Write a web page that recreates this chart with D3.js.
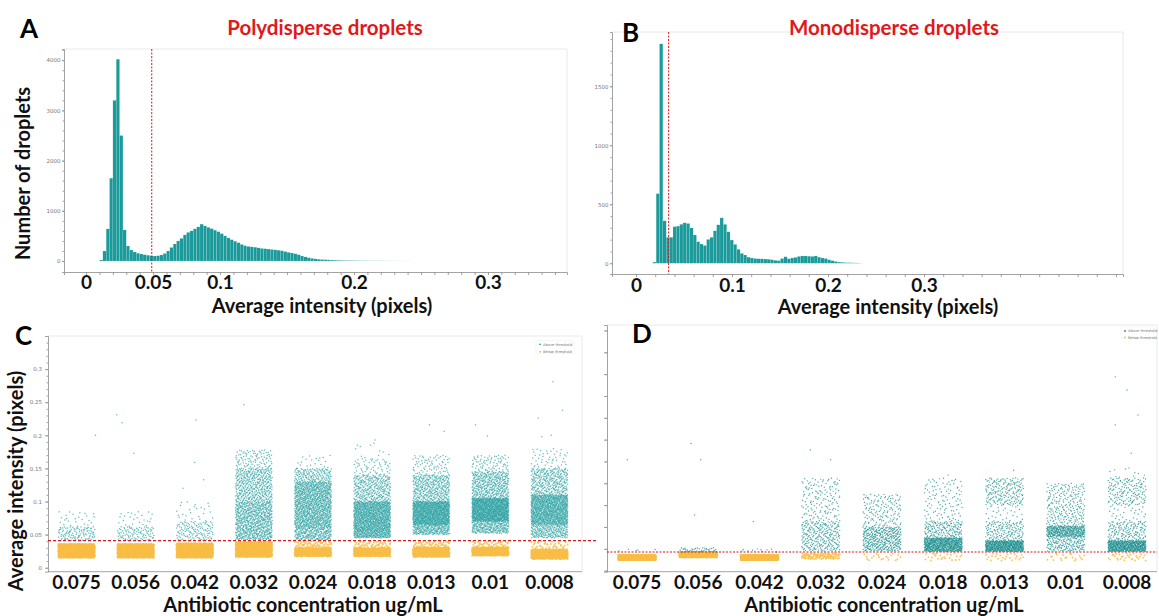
<!DOCTYPE html>
<html lang="en">
<head>
<meta charset="UTF-8">
<title>Droplet intensity distributions</title>
<script src="https://d3js.org/d3.v7.min.js"></script>
<style>
  * { margin: 0; padding: 0; }
  body { background: #fff; width: 1159px; height: 616px; overflow: hidden; }
  svg { display: block; font-family: Lato, 'Open Sans', sans-serif; }
  .big text { font-weight: 700; font-size: 19px; fill: #111; font-family: Lato, sans-serif; }
  text.big { font-weight: 700; font-size: 20px; fill: #111; font-family: Lato, sans-serif; }
  .letter { font-weight: 700; font-size: 26px; fill: #000; }
  .title { font-weight: 700; font-size: 20.5px; fill: #e0191b; }
  .small text { font-size: 5.5px; fill: #777; font-family: 'DejaVu Sans', sans-serif; }
  .small path, .small line { stroke: #8c8c8c; stroke-width: 0.8; }
  .legend text { font-size: 3.6px; fill: #777; font-family: 'DejaVu Sans', sans-serif; }
</style>
</head>
<body>
<svg id="fig" width="1159" height="616"></svg>
<script>
// ---------- data ----------

// A: polydisperse droplets, histogram of average intensity
const binStartA = 0.01;
const binWidthA = 0.0025;
const countsA = [
  20, 200, 640, 1650, 3200, 4020, 2500, 620, 300, 220,
  180, 155, 140, 125, 115, 105, 100, 105, 120, 150,
  200, 270, 340, 400, 450, 520, 570, 600, 640, 680,
  735, 700, 670, 645, 615, 585, 545, 500, 460, 425,
  395, 365, 330, 305, 290, 282, 275, 262, 250, 245,
  238, 230, 222, 214, 205, 188, 172, 160, 145, 125,
  100, 82, 65, 52, 42, 35, 30, 26, 22, 19,
  16, 14, 12, 10, 9, 8, 7, 6, 5, 5,
  4, 4, 3, 3, 3, 2, 2, 2, 1, 1, 1, 1, 1
];
const thresholdA = 0.049;
const countTicksA = [0, 1000, 2000, 3000, 4000];
const intensityTicksA = [0, 0.05, 0.1, 0.2, 0.3];

// B: monodisperse droplets
const binStartB = 0.0175;
const binWidthB = 0.0035;
const countsB = [
  10, 590, 1860, 360, 220, 220, 310, 315, 330, 343,
  337, 300, 240, 183, 163, 150, 202, 220, 275, 326,
  385, 330, 267, 197, 160, 118, 84, 70, 52, 45,
  40, 38, 38, 36, 34, 30, 25, 22, 40, 55,
  38, 45, 50, 58, 62, 62, 60, 58, 62, 52,
  45, 40, 30, 22, 15, 10, 8, 6, 5, 4, 3, 2
];
const thresholdB = 0.034;
const countTicksB = [0, 500, 1000, 1500];
const intensityTicksB = [0, 0.1, 0.2, 0.3];

// C / D: strip plots by antibiotic concentration (ug/mL)
const concentrations = ['0.075', '0.056', '0.042', '0.032', '0.024', '0.018', '0.013', '0.01', '0.008'];
const intensityTicksC = [0, 0.05, 0.1, 0.15, 0.2, 0.25, 0.3];
const thresholdC = 0.041;
const thresholdD = 0.034;

// dense parts of each strip: [concentration, group, low, high, approx. number of droplets]
const densityC = [
  ['0.075', 'below', 0.015, 0.036, 900],
  ['0.056', 'below', 0.015, 0.036, 900],
  ['0.042', 'below', 0.015, 0.037, 900],
  ['0.032', 'below', 0.016, 0.039, 750],
  ['0.024', 'below', 0.017, 0.030, 420],
  ['0.024', 'below', 0.030, 0.040, 60],
  ['0.018', 'below', 0.017, 0.030, 420],
  ['0.018', 'below', 0.030, 0.040, 50],
  ['0.013', 'below', 0.016, 0.031, 420],
  ['0.013', 'below', 0.031, 0.040, 50],
  ['0.01', 'below', 0.018, 0.031, 420],
  ['0.01', 'below', 0.031, 0.040, 40],
  ['0.008', 'below', 0.013, 0.028, 420],
  ['0.008', 'below', 0.028, 0.040, 40],
  ['0.075', 'above', 0.041, 0.062, 110],
  ['0.075', 'above', 0.062, 0.085, 25],
  ['0.056', 'above', 0.041, 0.062, 100],
  ['0.056', 'above', 0.062, 0.085, 25],
  ['0.042', 'above', 0.041, 0.070, 130],
  ['0.042', 'above', 0.070, 0.100, 25],
  ['0.032', 'above', 0.042, 0.100, 700],
  ['0.032', 'above', 0.100, 0.150, 420],
  ['0.032', 'above', 0.150, 0.178, 100],
  ['0.024', 'above', 0.042, 0.060, 220],
  ['0.024', 'above', 0.060, 0.130, 1100],
  ['0.024', 'above', 0.130, 0.150, 150],
  ['0.024', 'above', 0.150, 0.170, 20],
  ['0.018', 'above', 0.045, 0.055, 200],
  ['0.018', 'above', 0.055, 0.100, 1000],
  ['0.018', 'above', 0.100, 0.140, 320],
  ['0.018', 'above', 0.140, 0.165, 60],
  ['0.018', 'above', 0.165, 0.190, 10],
  ['0.013', 'above', 0.050, 0.065, 220],
  ['0.013', 'above', 0.065, 0.100, 1000],
  ['0.013', 'above', 0.100, 0.140, 360],
  ['0.013', 'above', 0.140, 0.170, 80],
  ['0.01', 'above', 0.052, 0.070, 240],
  ['0.01', 'above', 0.070, 0.105, 1100],
  ['0.01', 'above', 0.105, 0.145, 400],
  ['0.01', 'above', 0.145, 0.170, 80],
  ['0.008', 'above', 0.045, 0.065, 220],
  ['0.008', 'above', 0.065, 0.110, 1000],
  ['0.008', 'above', 0.110, 0.150, 320],
  ['0.008', 'above', 0.150, 0.180, 50]
];
// single droplets: [concentration, intensity, position inside the strip]
const outliersC = [
  ['0.075', 0.200, 0.32],
  ['0.056', 0.231, -0.32], ['0.056', 0.219, -0.23], ['0.056', 0.173, -0.03],
  ['0.042', 0.223, 0.02], ['0.042', 0.159, 0.0], ['0.042', 0.133, 0.15], ['0.042', 0.120, -0.2],
  ['0.032', 0.246, -0.17],
  ['0.018', 0.193, 0.05], ['0.018', 0.185, -0.25],
  ['0.013', 0.216, -0.03], ['0.013', 0.206, 0.22],
  ['0.01', 0.216, -0.25], ['0.01', 0.199, -0.05],
  ['0.008', 0.281, 0.06], ['0.008', 0.238, 0.22], ['0.008', 0.226, -0.19],
  ['0.008', 0.198, -0.13], ['0.008', 0.200, 0.03]
];

const densityD = [
  ['0.075', 'below', 0.019, 0.029, 700],
  ['0.056', 'below', 0.024, 0.034, 700],
  ['0.042', 'below', 0.019, 0.029, 700],
  ['0.032', 'below', 0.021, 0.032, 110],
  ['0.024', 'below', 0.018, 0.032, 20],
  ['0.018', 'below', 0.018, 0.032, 25],
  ['0.013', 'below', 0.018, 0.032, 25],
  ['0.01', 'below', 0.018, 0.032, 20],
  ['0.008', 'below', 0.018, 0.032, 30],
  ['0.075', 'above', 0.035, 0.040, 5],
  ['0.056', 'above', 0.034, 0.042, 40],
  ['0.042', 'above', 0.034, 0.040, 10],
  ['0.032', 'above', 0.036, 0.090, 260],
  ['0.032', 'above', 0.090, 0.170, 150],
  ['0.024', 'above', 0.036, 0.080, 350],
  ['0.024', 'above', 0.080, 0.140, 150],
  ['0.018', 'above', 0.035, 0.060, 550],
  ['0.018', 'above', 0.060, 0.090, 160],
  ['0.018', 'above', 0.090, 0.170, 110],
  ['0.013', 'above', 0.035, 0.055, 500],
  ['0.013', 'above', 0.055, 0.090, 150],
  ['0.013', 'above', 0.090, 0.120, 30],
  ['0.013', 'above', 0.120, 0.170, 190],
  ['0.01', 'above', 0.036, 0.062, 160],
  ['0.01', 'above', 0.062, 0.082, 320],
  ['0.01', 'above', 0.082, 0.120, 130],
  ['0.01', 'above', 0.120, 0.160, 110],
  ['0.008', 'above', 0.035, 0.055, 480],
  ['0.008', 'above', 0.055, 0.090, 150],
  ['0.008', 'above', 0.090, 0.120, 30],
  ['0.008', 'above', 0.120, 0.170, 160],
  ['0.008', 'above', 0.170, 0.190, 10]
];
const outliersD = [
  ['0.075', 0.203, -0.16],
  ['0.056', 0.233, -0.12], ['0.056', 0.203, 0.04], ['0.056', 0.102, -0.06],
  ['0.042', 0.090, -0.1],
  ['0.032', 0.221, -0.17], ['0.032', 0.203, 0.16],
  ['0.018', 0.175, 0.08],
  ['0.013', 0.184, 0.15],
  ['0.008', 0.355, -0.19], ['0.008', 0.331, 0.0], ['0.008', 0.285, 0.18],
  ['0.008', 0.267, -0.19], ['0.008', 0.215, 0.07]
];

// ---------- drawing ----------
const TEAL = '#1a9a9a';
const YELLOW = '#f8bd45';
const RED = '#d7191c';
const svg = d3.select('#fig');
const fmt = d3.format('~g');

function frame(g, x0, x1, y0, y1) {
  g.append('path')
    .attr('d', `M${x0},${y0}H${x1}V${y1}`)
    .attr('fill', 'none').attr('stroke', '#e4e4e4').attr('stroke-width', 0.8);
}

function histogram(cfg) {
  const g = svg.append('g');
  const x = d3.scaleLinear().domain(cfg.xDomain).range(cfg.xRange);
  const y = d3.scaleLinear().domain(cfg.yDomain).range(cfg.yRange);
  const [left, right] = cfg.xRange;
  const [bottom, top] = cfg.yRange;
  frame(g, left, right, top, bottom);

  g.selectAll('rect.bar').data(cfg.counts).join('rect')
    .attr('class', 'bar')
    .attr('x', (d, i) => x(cfg.start + i * cfg.width))
    .attr('width', (d, i) => x(cfg.start + (i + 1) * cfg.width) - x(cfg.start + i * cfg.width))
    .attr('y', d => y(d))
    .attr('height', d => y(0) - y(d))
    .attr('fill', TEAL)
    .attr('stroke', '#fff').attr('stroke-width', 0.3).attr('stroke-opacity', 0.45);

  // y axis with small grey labels + minor ticks
  g.append('g').attr('class', 'small').attr('transform', `translate(${left},0)`)
    .call(d3.axisLeft(y).tickValues(cfg.countTicks).tickSize(2).tickPadding(1.5).tickFormat(d3.format('d')));
  g.append('g').attr('class', 'small').attr('transform', `translate(${left},0)`)
    .call(d3.axisLeft(y).tickValues(d3.range(0, cfg.yDomain[1], cfg.minorY)).tickSize(1.5).tickFormat(''))
    .call(a => a.select('.domain').remove());

  // x axis: minor ticks, then the large labels
  g.append('g').attr('class', 'small').attr('transform', `translate(0,${bottom})`)
    .call(d3.axisBottom(x).tickValues(d3.range(0, cfg.xDomain[1], cfg.minorX)).tickSize(3).tickFormat(''));
  g.append('g').attr('class', 'big').attr('transform', `translate(0,${bottom})`)
    .call(d3.axisBottom(x).tickValues(cfg.labelTicks).tickSize(0).tickPadding(cfg.labelPad).tickFormat(fmt))
    .call(a => a.select('.domain').remove());

  g.append('line')
    .attr('x1', x(cfg.threshold)).attr('x2', x(cfg.threshold))
    .attr('y1', top).attr('y2', bottom)
    .attr('stroke', RED).attr('stroke-width', 1).attr('stroke-dasharray', '2,1.5');
}

// Halton low-discrepancy placement of droplets inside a strip (stands in for plot jitter)
function halton(i, b) {
  let f = 1, r = 0;
  while (i > 0) { f /= b; r += f * (i % b); i = Math.floor(i / b); }
  return r;
}
function layout(density, outliers, x, y, jitter) {
  const pts = [];
  density.forEach((s, si) => {
    const [cat, group, lo, hi, n] = s;
    const cx = x(cat) + x.bandwidth() / 2;
    for (let k = 0; k < n; k++) {
      const j = k + 1 + si * 1013;
      const u = halton(j, 2);
      const v = halton(j, 3);
      pts.push({ group, x: cx + (u - 0.5) * jitter, y: y(lo + v * (hi - lo)) });
    }
  });
  outliers.forEach(o => {
    pts.push({ group: 'above', x: x(o[0]) + x.bandwidth() / 2 + o[2] * x.step(), y: y(o[1]) });
  });
  return pts;
}

function strip(cfg) {
  const g = svg.append('g');
  const x = d3.scaleBand().domain(concentrations).range(cfg.bandRange);
  const y = d3.scaleLinear().domain(cfg.yDomain).range(cfg.yRange);
  const [bottom, top] = cfg.yRange;
  frame(g, cfg.left, cfg.right, top, bottom);

  const pts = layout(cfg.density, cfg.outliers, x, y, x.step() * 0.62);
  g.append('g').selectAll('circle').data(pts.filter(p => p.group === 'below')).join('circle')
    .attr('cx', d => d.x).attr('cy', d => d.y).attr('r', cfg.rBelow)
    .attr('fill', YELLOW).attr('fill-opacity', 0.85);
  g.append('g').selectAll('circle').data(pts.filter(p => p.group === 'above')).join('circle')
    .attr('cx', d => d.x).attr('cy', d => d.y).attr('r', cfg.rAbove)
    .attr('fill', cfg.teal).attr('fill-opacity', cfg.tealOpacity);

  // axes
  g.append('line').attr('x1', cfg.left).attr('x2', cfg.right).attr('y1', bottom).attr('y2', bottom)
    .attr('stroke', '#8c8c8c').attr('stroke-width', 0.8);
  const ya = d3.axisLeft(y).tickSize(3).tickPadding(3);
  if (cfg.yTicks) ya.tickValues(cfg.yTicks).tickFormat(fmt);
  else ya.tickValues(d3.range(0, cfg.yDomain[1], cfg.majorY)).tickFormat('');
  g.append('g').attr('class', 'small').attr('transform', `translate(${cfg.left},0)`).call(ya);
  g.append('g').attr('class', 'small').attr('transform', `translate(${cfg.left},0)`)
    .call(d3.axisLeft(y).tickValues(d3.range(0, cfg.yDomain[1], cfg.minorY)).tickSize(1.5).tickFormat(''))
    .call(a => a.select('.domain').remove());
  g.append('g').attr('class', 'big').attr('transform', `translate(0,${bottom})`)
    .call(d3.axisBottom(x).tickSize(0).tickPadding(cfg.labelPad))
    .call(a => a.select('.domain').remove());

  g.append('line')
    .attr('x1', cfg.left).attr('x2', cfg.thrRight)
    .attr('y1', y(cfg.threshold)).attr('y2', y(cfg.threshold))
    .attr('stroke', RED).attr('stroke-width', 1.1).attr('stroke-dasharray', cfg.dash);

  // legend
  const lg = g.append('g').attr('class', 'legend');
  lg.append('rect').attr('x', cfg.legend[0] - 4).attr('y', cfg.legend[1] - 4)
    .attr('width', cfg.legendW).attr('height', cfg.legendH)
    .attr('fill', '#fff').attr('stroke', '#eee').attr('stroke-width', 0.5);
  [['Above threshold', cfg.teal], ['Below threshold', YELLOW]].forEach((it, i) => {
    const yy = cfg.legend[1] + i * cfg.legendGap;
    lg.append('circle').attr('cx', cfg.legend[0]).attr('cy', yy).attr('r', 0.9).attr('fill', it[1]);
    lg.append('text').attr('x', cfg.legend[0] + 3).attr('y', yy + 1.2).text(it[0]);
  });
}

histogram({
  counts: countsA, start: binStartA, width: binWidthA, threshold: thresholdA,
  xDomain: [-0.0165, 0.359], xRange: [64, 567],
  yDomain: [-219, 4223], yRange: [272, 49],
  countTicks: countTicksA, minorY: 200, minorX: 0.01,
  labelTicks: intensityTicksA, labelPad: 3.5
});

histogram({
  counts: countsB, start: binStartB, width: binWidthB, threshold: thresholdB,
  xDomain: [-0.025, 0.5073], xRange: [612, 1123],
  yDomain: [-91, 1960], yRange: [274, 32],
  countTicks: countTicksB, minorY: 100, minorX: 0.02,
  labelTicks: intensityTicksB, labelPad: 4.5
});

strip({
  density: densityC, outliers: outliersC, threshold: thresholdC,
  bandRange: [47, 579], left: 48, right: 582, thrRight: 596,
  yDomain: [-0.006, 0.35], yRange: [571.7, 336],
  yTicks: intensityTicksC, minorY: 0.01,
  teal: '#2aa0a1', tealOpacity: 0.7, rAbove: 0.75, rBelow: 1,
  dash: '3,2', labelPad: 3.5,
  legend: [540, 344.3], legendW: 38, legendH: 13, legendGap: 7.4
});

strip({
  density: densityD, outliers: outliersD, threshold: thresholdD,
  bandRange: [606.4, 1157.6], left: 607, right: 1157, thrRight: 1157,
  yDomain: [-0.002, 0.45], yRange: [571.7, 325],
  majorY: 0.04, minorY: 0.04,
  teal: '#138b8b', tealOpacity: 0.75, rAbove: 0.7, rBelow: 0.95,
  dash: '2,1.5', labelPad: 4,
  legend: [1125, 331], legendW: 33, legendH: 11, legendGap: 6.5
});

// ---------- text ----------
svg.append('text').attr('class', 'letter').attr('x', 20).attr('y', 38).text('A');
svg.append('text').attr('class', 'letter').attr('x', 622).attr('y', 42).text('B');
svg.append('text').attr('class', 'letter').attr('x', 15).attr('y', 345).text('C');
svg.append('text').attr('class', 'letter').attr('x', 632).attr('y', 343).text('D');

svg.append('text').attr('class', 'title').attr('x', 325).attr('y', 35).attr('text-anchor', 'middle').text('Polydisperse droplets');
svg.append('text').attr('class', 'title').attr('x', 894).attr('y', 35).attr('text-anchor', 'middle').text('Monodisperse droplets');

svg.append('text').attr('class', 'big').attr('x', 322).attr('y', 313).attr('text-anchor', 'middle').text('Average intensity (pixels)');
svg.append('text').attr('class', 'big').attr('x', 888).attr('y', 314).attr('text-anchor', 'middle').text('Average intensity (pixels)');
svg.append('text').attr('class', 'big').attr('x', 303).attr('y', 612).attr('text-anchor', 'middle').text('Antibiotic concentration ug/mL');
svg.append('text').attr('class', 'big').attr('x', 884).attr('y', 612).attr('text-anchor', 'middle').text('Antibiotic concentration ug/mL');

svg.append('text').attr('class', 'big').attr('transform', 'translate(30,173.5) rotate(-90)')
  .attr('text-anchor', 'middle').text('Number of droplets');
svg.append('text').attr('class', 'big').attr('transform', 'translate(23,481) rotate(-90)')
  .attr('text-anchor', 'middle').text('Average intensity (pixels)');
</script>
</body>
</html>
